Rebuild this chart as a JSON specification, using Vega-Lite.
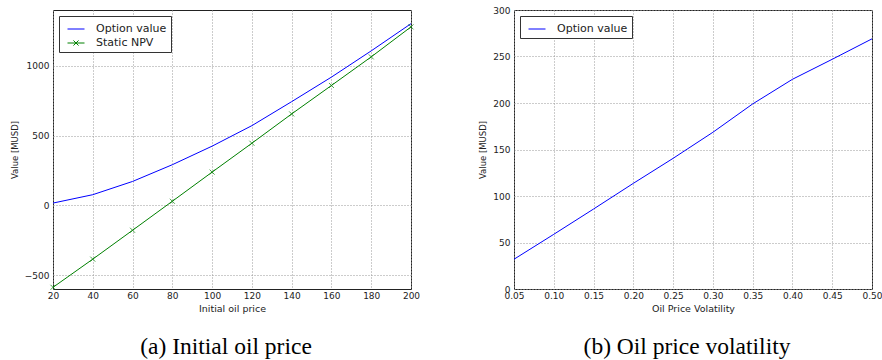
{
  "$schema": "https://vega.github.io/schema/vega-lite/v6.json",
  "padding": {"left": 9, "top": 5, "right": 5, "bottom": 5},
  "background": "white",
  "bounds": "flush",
  "spacing": 103,
  "config": {
    "view": {"stroke": "#222", "strokeWidth": 1},
    "axis": {
      "domain": false,
      "ticks": false,
      "grid": true,
      "gridColor": "#999",
      "gridDash": [1, 2],
      "gridWidth": 1,
      "labelFont": "DejaVu Sans",
      "labelFontSize": 9,
      "labelColor": "#222",
      "labelOverlap": false,
      "titleFont": "DejaVu Sans",
      "titleFontWeight": "normal",
      "titleColor": "#222"
    },
    "axisX": {"labelFlush": false, "labelPadding": 2, "titleFontSize": 9.5, "titlePadding": 3},
    "axisY": {"labelPadding": 4, "titleFontSize": 8.5, "titlePadding": 5},
    "legend": {
      "orient": "top-left",
      "offset": 6,
      "strokeColor": "#333",
      "fillColor": "white",
      "padding": 4,
      "symbolOffset": 4,
      "symbolType": "stroke",
      "symbolSize": 289,
      "symbolStrokeWidth": 1,
      "labelFont": "DejaVu Sans",
      "labelFontSize": 11,
      "labelColor": "#222",
      "labelOffset": 11,
      "rowPadding": 0,
      "title": null
    },
    "title": {
      "orient": "bottom",
      "font": "Liberation Serif",
      "fontSize": 23.5,
      "fontWeight": "normal",
      "color": "black",
      "anchor": "middle",
      "offset": 22,
      "dx": -6
    }
  },
  "datasets": {
    "price": [
      {"price": 20, "series": "Option value", "value": 16},
      {"price": 40, "series": "Option value", "value": 76},
      {"price": 60, "series": "Option value", "value": 171},
      {"price": 80, "series": "Option value", "value": 291},
      {"price": 100, "series": "Option value", "value": 424},
      {"price": 120, "series": "Option value", "value": 571},
      {"price": 140, "series": "Option value", "value": 743},
      {"price": 160, "series": "Option value", "value": 919},
      {"price": 180, "series": "Option value", "value": 1107},
      {"price": 200, "series": "Option value", "value": 1302},
      {"price": 20, "series": "Static NPV", "value": -588},
      {"price": 40, "series": "Static NPV", "value": -386},
      {"price": 60, "series": "Static NPV", "value": -179},
      {"price": 80, "series": "Static NPV", "value": 29},
      {"price": 100, "series": "Static NPV", "value": 238},
      {"price": 120, "series": "Static NPV", "value": 445},
      {"price": 140, "series": "Static NPV", "value": 655},
      {"price": 160, "series": "Static NPV", "value": 859},
      {"price": 180, "series": "Static NPV", "value": 1064},
      {"price": 200, "series": "Static NPV", "value": 1279}
    ],
    "vol": [
      {"vol": 0.05, "series": "Option value", "value": 32},
      {"vol": 0.10, "series": "Option value", "value": 58.8},
      {"vol": 0.15, "series": "Option value", "value": 86},
      {"vol": 0.20, "series": "Option value", "value": 113.6},
      {"vol": 0.25, "series": "Option value", "value": 140.5},
      {"vol": 0.30, "series": "Option value", "value": 168.5},
      {"vol": 0.35, "series": "Option value", "value": 199},
      {"vol": 0.40, "series": "Option value", "value": 225.5},
      {"vol": 0.45, "series": "Option value", "value": 247},
      {"vol": 0.50, "series": "Option value", "value": 269}
    ]
  },
  "resolve": {"scale": {"color": "independent"}, "legend": {"color": "independent"}},
  "hconcat": [
    {
      "width": 358,
      "height": 279,
      "title": "(a) Initial oil price",
      "data": {"name": "price"},
      "encoding": {
        "x": {"field": "price", "type": "quantitative", "scale": {"domain": [20, 200], "nice": false, "zero": false},
              "axis": {"title": "Initial oil price", "labelOverlap": false, "values": [20, 40, 60, 80, 100, 120, 140, 160, 180, 200]}},
        "y": {"field": "value", "type": "quantitative", "scale": {"domain": [-600, 1400], "nice": false},
              "axis": {"title": "Value [MUSD]", "format": "d", "values": [-500, 0, 500, 1000]}}
      },
      "layer": [
        {
          "mark": {"type": "line", "strokeWidth": 1},
          "encoding": {
            "color": {"field": "series", "type": "nominal",
                      "scale": {"domain": ["Option value", "Static NPV"], "range": ["blue", "green"]},
                      "legend": {
                        "encode": {"symbols": {"update": {"shape": {"signal": "datum.value === 'Static NPV' ? 'M-1,0H1M-0.3,-0.3L0.3,0.3M-0.3,0.3L0.3,-0.3' : 'M-1,0H1'"}}}}
                      }}
          }
        },
        {
          "transform": [{"filter": "datum.series === 'Static NPV'"}],
          "mark": {"type": "point", "shape": "M-1,-1L1,1M-1,1L1,-1", "size": 25, "filled": false, "color": "green", "strokeWidth": 1},
          "encoding": {}
        }
      ]
    },
    {
      "width": 358,
      "height": 279,
      "title": "(b) Oil price volatility",
      "data": {"name": "vol"},
      "mark": {"type": "line", "strokeWidth": 1},
      "encoding": {
        "x": {"field": "vol", "type": "quantitative", "scale": {"domain": [0.05, 0.5], "nice": false, "zero": false},
              "axis": {"title": "Oil Price Volatility", "format": ".2f", "labelOverlap": false, "values": [0.05, 0.1, 0.15, 0.2, 0.25, 0.3, 0.35, 0.4, 0.45, 0.5]}},
        "y": {"field": "value", "type": "quantitative", "scale": {"domain": [0, 300], "nice": false},
              "axis": {"title": "Value [MUSD]", "values": [0, 50, 100, 150, 200, 250, 300]}},
        "color": {"field": "series", "type": "nominal",
                  "scale": {"domain": ["Option value"], "range": ["blue"]},
                  "legend": {"symbolType": "M-1,0H1"}}
      }
    }
  ]
}
